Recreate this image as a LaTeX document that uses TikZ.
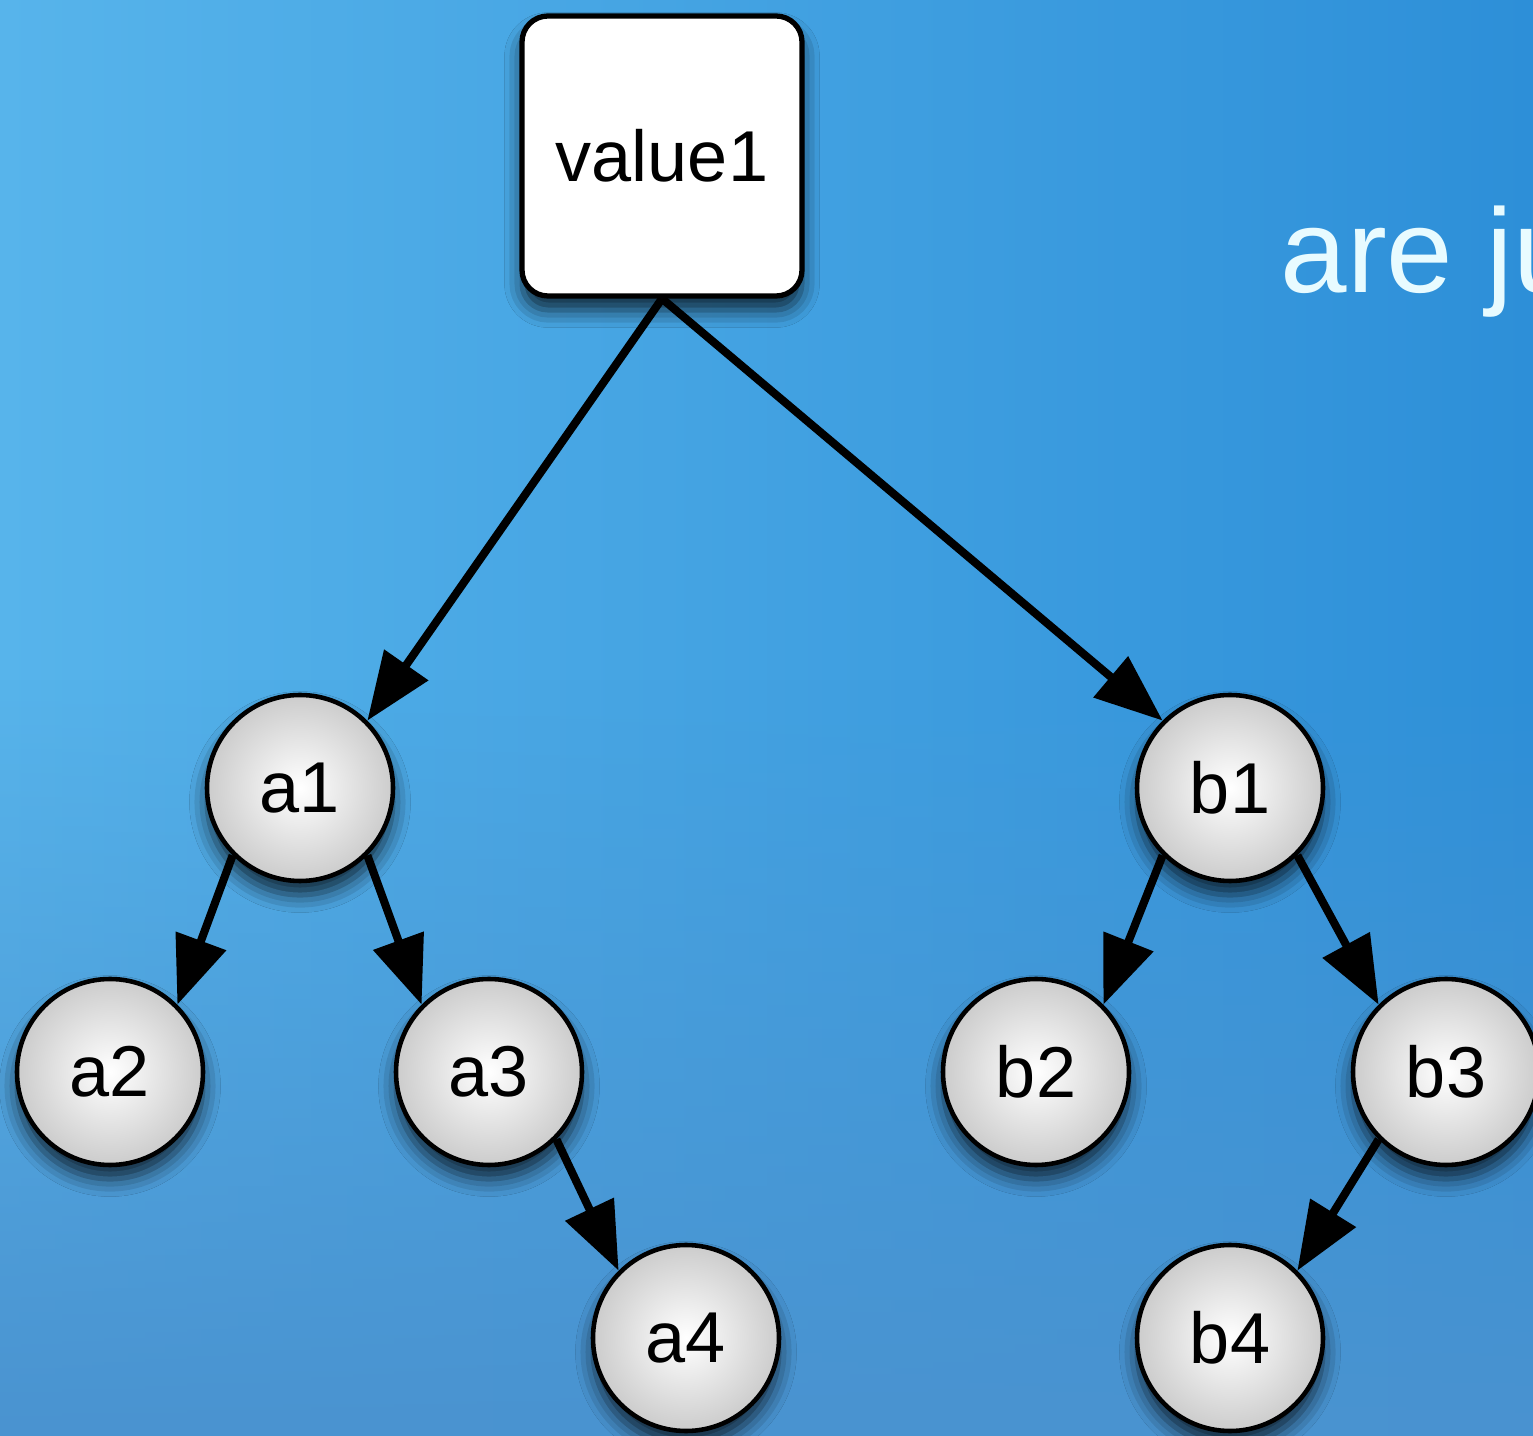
\documentclass[tikz,border=0pt]{standalone}
\usepackage{fontspec}
\setmainfont{Liberation Sans}
\usepackage{xcolor}
\usepackage{tikz}
\usetikzlibrary{positioning,arrows.meta,shadows.blur,fadings}
\definecolor{SKYlight}{HTML}{57B4EB}
\definecolor{SKYdeep}{HTML}{2D8FD8}
\definecolor{SKYlow}{HTML}{4A93D0}
\definecolor{NODEgrey}{HTML}{CCCCCC}
\definecolor{TITLEwhite}{HTML}{E8FBFF}
\newcommand{\nodefont}{\fontsize{20.5}{24}\selectfont}
\tikzset{
  rootbox/.style={rectangle, rounded corners=0.26cm, draw=black, line width=1.5pt, fill=white, minimum width=2.8cm, minimum height=2.8cm, inner sep=0pt, font=\nodefont, text=black, blur shadow={shadow xshift=0pt, shadow yshift=-4pt, shadow blur radius=5pt, shadow opacity=75}},
  leafnode/.style={circle, draw=black, line width=1.3pt, shading=radial, inner color=white, outer color=NODEgrey, minimum size=1.86cm, inner sep=0pt, font=\nodefont, text=black, blur shadow={shadow xshift=0pt, shadow yshift=-4pt, shadow blur radius=5pt, shadow opacity=75}},
  treearr/.style={-{Triangle[length=6.8mm,width=5.2mm]}, line width=2.3pt, draw=black}
}

\begin{document}
\begin{tikzpicture}
\useasboundingbox (0,0) rectangle (15.33,-14.36);
\clip (0,0) rectangle (15.33,-14.36);
\shade[left color=SKYlight, right color=SKYdeep] (0,0) rectangle (15.33,-14.36);
\fill[SKYlow, path fading=north] (0,-6.8) rectangle (15.33,-14.36);

\node[anchor=base west, inner sep=0pt, text=TITLEwhite, font=\fontsize{34}{40}\selectfont] (blurb) at (12.80,-2.93) {are ju};

\node[rootbox] (value1) at (6.62,-1.56) {value1};
\node[leafnode] (a1) at (3.00,-7.88) {a1};
\node[leafnode] (a2) at (1.10,-10.72) {a2};
\node[leafnode] (a3) at (4.89,-10.72) {a3};
\node[leafnode] (a4) at (6.86,-13.38) {a4};
\node[leafnode] (b1) at (12.30,-7.88) {b1};
\node[leafnode] (b2) at (10.36,-10.72) {b2};
\node[leafnode] (b3) at (14.46,-10.72) {b3};
\node[leafnode] (b4) at (12.30,-13.38) {b4};

\draw[treearr] (value1.south) -- (a1.45);
\draw[treearr] (value1.south) -- (b1.135);
\draw[treearr] (a1.225) -- (a2.45);
\draw[treearr] (a1.315) -- (a3.135);
\draw[treearr] (a3.315) -- (a4.135);
\draw[treearr] (b1.225) -- (b2.45);
\draw[treearr] (b1.315) -- (b3.135);
\draw[treearr] (b3.225) -- (b4.45);
\end{tikzpicture}
\end{document}
